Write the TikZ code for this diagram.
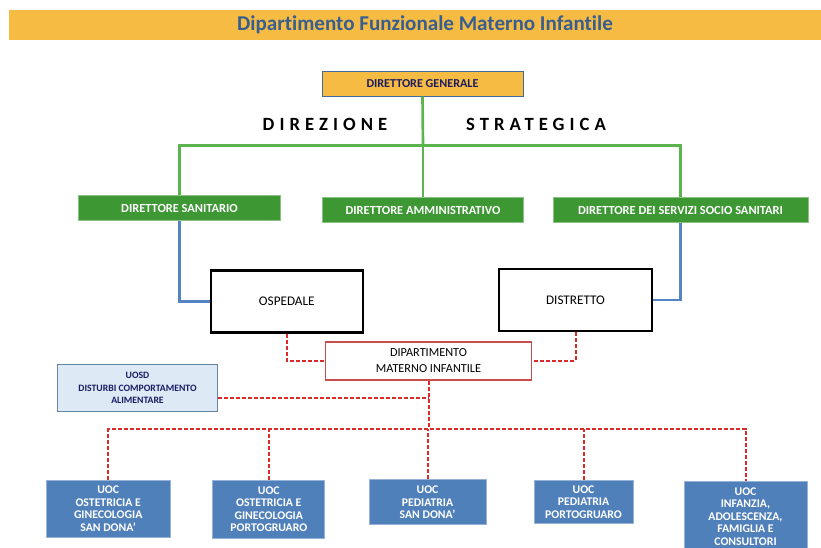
\documentclass[tikz,border=0pt]{standalone}
\usepackage{fontspec}
\setmainfont{Carlito}[Ligatures=NoCommon]
\newfontfamily\spacedfont[LetterSpace=27,Ligatures=NoCommon]{Carlito}

\definecolor{titlebar}{RGB}{246,187,66}
\definecolor{titletext}{RGB}{54,94,145}
\definecolor{boxgreen}{RGB}{61,152,52}
\definecolor{linegreen}{RGB}{92,180,78}
\definecolor{lineblue}{RGB}{84,132,196}
\definecolor{boxblue}{RGB}{80,128,186}
\definecolor{dashred}{RGB}{218,42,42}
\definecolor{depred}{RGB}{200,78,78}
\definecolor{uosdfill}{RGB}{221,233,244}
\definecolor{navytext}{RGB}{28,28,100}

\tikzset{every picture/.style={line width=0.75pt}}
\tikzset{
  dgbox/.style={draw=lineblue!80!black, fill=titlebar, text=navytext, font=\fontsize{9.1}{10}\selectfont\bfseries, inner sep=0pt},
  greenbox/.style={draw=boxgreen!60!white, fill=boxgreen, text=white, font=\fontsize{9.3}{10}\selectfont\bfseries, inner sep=0pt},
  blackbox/.style={draw=black, line width=1.8pt, fill=white, font=\fontsize{9.9}{11}\selectfont, inner sep=0pt},
  depbox/.style={draw=depred, line width=1.3pt, fill=white, align=center, font=\fontsize{9.2}{12}\selectfont, inner sep=0pt},
  uosdbox/.style={draw=lineblue!60!gray, fill=uosdfill, text=navytext, align=center, font=\fontsize{7.3}{9.5}\selectfont\bfseries, inner sep=0pt},
  uocbox/.style={draw=boxblue!60!white, fill=boxblue, text=white, align=center, font=\fontsize{8.8}{9.4}\selectfont\bfseries, inner sep=0pt},
  greenline/.style={draw=linegreen, line width=2pt},
  blueline/.style={draw=lineblue, line width=2pt},
  reddash/.style={draw=dashred, line width=1.5pt, dash pattern=on 3pt off 1.5pt}
}

\begin{document}
\begin{tikzpicture}[x=0.75pt,y=0.75pt,yscale=-1,xscale=1]
	\useasboundingbox (0,0) rectangle (821,547);
	\clip (0,0) rectangle (821,547);
	
	% Title bar
	\fill[titlebar] (9,10) rectangle (821,40);
	\node (title) at (425,25) [text=titletext, font=\fontsize{15.8}{17}\selectfont\bfseries] {Dipartimento Funzionale Materno Infantile};
	
	% Text Node
	\node (dg) at (422.5,83.5) [dgbox, minimum width=150.75pt, minimum height=18.75pt] {DIRETTORE GENERALE};
	% Text Node
	\node (direzione) at (325,124) [font=\fontsize{14}{16}\selectfont\spacedfont\bfseries] {DIREZIONE};
	\node (strategica) at (536,124) [font=\fontsize{14}{16}\selectfont\spacedfont\bfseries] {STRATEGICA};
	% Text Node
	\node (ds) at (179.5,208.2) [greenbox, minimum width=151pt, minimum height=18.75pt] {DIRETTORE SANITARIO};
	\node (da) at (423,210.2) [greenbox, minimum width=151.2pt, minimum height=18.75pt] {DIRETTORE AMMINISTRATIVO};
	\node (dss) at (680.5,210.2) [greenbox, minimum width=191.25pt, minimum height=18.75pt] {DIRETTORE DEI SERVIZI SOCIO SANITARI};
	% Text Node
	\node (osp) at (286.8,301.5) [blackbox, minimum width=114pt, minimum height=46.5pt] {OSPEDALE};
	\node (dis) at (575.5,300) [blackbox, minimum width=114.4pt, minimum height=46.5pt] {DISTRETTO};
	% Text Node
	\node (dip) at (428.5,361) [depbox, minimum width=154.5pt, minimum height=28.7pt] {DIPARTIMENTO\\MATERNO INFANTILE};
	\node (uosd) at (137.5,388) [uosdbox, minimum width=120pt, minimum height=35.8pt] {UOSD\\DISTURBI COMPORTAMENTO\\ALIMENTARE};
	% Text Node
	\node (uoc1) at (108.2,508.8) [uocbox, minimum width=93pt, minimum height=43.2pt] {UOC\\OSTETRICIA E\\GINECOLOGIA\\SAN DONA’};
	\node (uoc2) at (268.8,509) [uocbox, minimum width=84pt, minimum height=43.5pt] {UOC\\OSTETRICIA E\\GINECOLOGIA\\PORTOGRUARO};
	\node (uoc3) at (427.5,502.3) [uocbox, minimum width=87.75pt, minimum height=33.5pt] {UOC\\PEDIATRIA\\SAN DONA’};
	\node (uoc4) at (583.5,501.8) [uocbox, minimum width=74.25pt, minimum height=32.7pt] {UOC\\PEDIATRIA\\PORTOGRUARO};
	\node (uoc5) at (745.5,481) [uocbox, anchor=north, minimum width=92.25pt, minimum height=52.5pt] {UOC\\INFANZIA,\\ADOLESCENZA,\\FAMIGLIA E\\CONSULTORI};
	
	% Joints
	\coordinate (greenhub) at (423,145.7);
	\coordinate (uosdjoin) at (428.5,398);
	\coordinate (redbus) at (428.5,429);
	
	% Connection
	\draw[greenline] (dg.south) -- (greenhub);
	\draw[greenline] (ds.north) |- (greenhub) -| (dss.north);
	\draw[greenline] (greenhub) -- (da.north);
	% Connection
	\draw[blueline] (ds.south) |- (osp.west);
	\draw[blueline] (dss.south) |- (dis.east);
	% Connection
	\draw[reddash] (osp.south) |- (dip.west);
	\draw[reddash] (dis.south) |- (dip.east);
	\draw[reddash] (dip.south) -- (redbus);
	\draw[reddash] (uosd.east |- uosdjoin) -- (uosdjoin);
	% Connection
	\draw[reddash] (uoc1.north) |- (redbus) -| (uoc5.north);
	\draw[reddash] (uoc2.north) -- (uoc2.north |- redbus);
	\draw[reddash] (uoc3.north) -- (uoc3.north |- redbus);
	\draw[reddash] (uoc4.north) -- (uoc4.north |- redbus);
	
\end{tikzpicture}
\end{document}
